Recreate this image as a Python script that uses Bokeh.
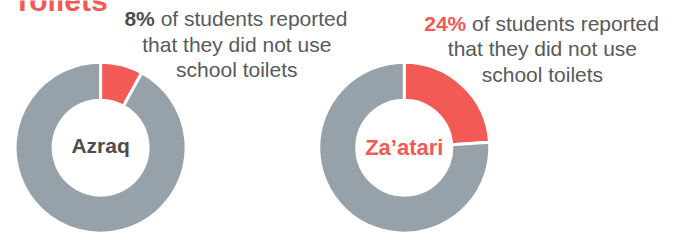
import math
from bokeh.plotting import figure
from bokeh.models import Range1d, ColumnDataSource
from bokeh.core.properties import value
from bokeh.embed import file_html
from bokeh.resources import INLINE

# ---- data ----
title = "Toilets"
sites = ["Azraq", "Za\u2019atari"]
pct_not_used = [8, 24]
statement_lines = ["of students reported", "that they did not use", "school toilets"]

RED = "#F15A55"
GREY = "#97A1A9"
TEXT = "#58595B"
DARK = "#4D4D4F"

# reference canvas coordinates (679 x 248) mapped into a 663 x 232 plot
RW, RH = 679, 248
PW, PH = 663, 232
SY = PH / RH

p = figure(width=PW, height=PH, output_backend="svg",
           toolbar_location=None, x_range=Range1d(0, RW),
           y_range=Range1d(0, RH), min_border=0)
p.axis.visible = False
p.grid.visible = False
p.outline_line_color = None
p.background_fill_color = "white"
p.border_fill_color = "white"

def Y(ry):
    return RH - ry

FONT = value("Liberation Sans")
DESC = 0.212  # descent of Liberation Sans, in em

def label(x, base, txt, size, color, align, bold=False):
    # place text so that its alphabetic baseline sits at reference y = base
    y = Y(base) - DESC * size / SY
    p.text(x=[x], y=[y], text=[txt], text_font=FONT,
           text_font_style="bold" if bold else "normal",
           text_font_size=f"{size}px", text_color=color,
           text_align=align, text_baseline="bottom")

centers_x = [102.5, 413.5]
center_y = 157.3

# donut wedges (radii in screen pixels)
xs, ys, starts, ends, colors = [], [], [], [], []
for cx, pct in zip(centers_x, pct_not_used):
    fr = pct / 100.0
    for a, b, c in [(0.0, fr, RED), (fr, 1.0, GREY)]:
        xs.append(cx)
        ys.append(Y(center_y))
        starts.append(math.pi / 2 - a * 2 * math.pi)
        ends.append(math.pi / 2 - b * 2 * math.pi)
        colors.append(c)
src = ColumnDataSource(dict(x=xs, y=ys, s=starts, e=ends, c=colors))
p.annular_wedge(x="x", y="y", inner_radius=47.5, outer_radius=85.5,
                inner_radius_units="screen", outer_radius_units="screen",
                start_angle="s", end_angle="e", direction="clock",
                fill_color="c", line_color="white", line_width=3, source=src)

# title (mostly cropped at the top edge, as in the reference)
label(13, 10.5, title, 30, RED, "left", bold=True)

# center labels
label(centers_x[0], 162.3, sites[0], 21, DARK, "center", bold=True)
label(centers_x[1], 165.5, sites[1], 22, RED, "center", bold=True)

# statements
FS = 21
stmt = [
    dict(pct_right=158, rest_left=164, cx=242, base=27, pct_color=DARK),
    dict(pct_right=477, rest_left=483, cx=555, base=32, pct_color=RED),
]
for s, pct in zip(stmt, pct_not_used):
    label(s["pct_right"], s["base"], f"{pct}%", FS, s["pct_color"], "right", bold=True)
    label(s["rest_left"], s["base"], statement_lines[0], FS, TEXT, "left")
    for i, line in enumerate(statement_lines[1:], start=1):
        label(s["cx"], s["base"] + 27.3 * i, line, FS, TEXT, "center")

open("out.html", "w").write(file_html(p, INLINE))
